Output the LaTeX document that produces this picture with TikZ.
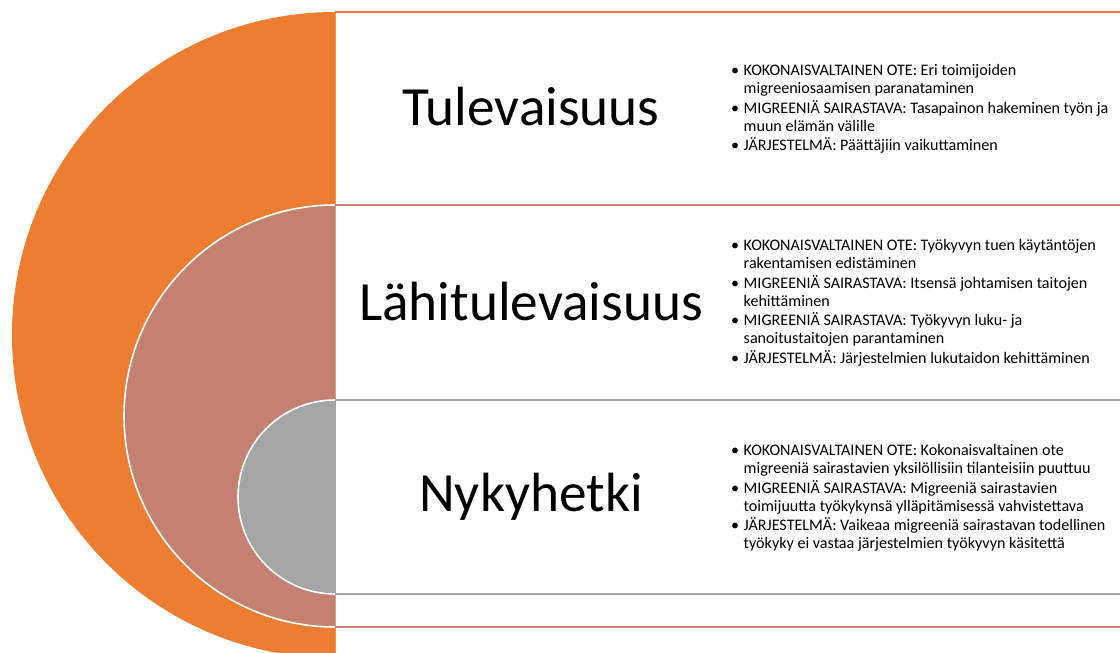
\documentclass[tikz,border=0pt]{standalone}
\usepackage{fontspec}
\setmainfont{Carlito}
\definecolor{orng}{RGB}{237,125,49}
\definecolor{salm}{RGB}{196,128,112}
\definecolor{gry}{RGB}{165,165,165}
\newcommand{\bi}{\makebox[12.5pt][l]{\textbullet}}
\newcommand{\ci}{\hspace*{12.5pt}}
\tikzset{
  title/.style={font=\fontsize{55.3}{60}\selectfont, inner sep=0pt},
  blist/.style={font=\fontsize{16.1}{18}\selectfont, align=left, anchor=west, inner sep=0pt},
  hline/.style={line width=2pt}
}
\begin{document}
\begin{tikzpicture}[x=1pt,y=-1pt]
\useasboundingbox (0,0) rectangle (1120,653);
% half discs
\fill[orng] (335,12) arc[start angle=270, end angle=90, radius=323] -- cycle;
\fill[salm] (335,205) arc[start angle=270, end angle=90, radius=211] -- cycle;
\draw[white, line width=1.6pt] (335,205) arc[start angle=270, end angle=90, radius=211];
\fill[gry] (335,400) arc[start angle=270, end angle=90, radius=97] -- cycle;
\draw[white, line width=1.6pt] (335,400) arc[start angle=270, end angle=90, radius=97];
% vertical edges
\draw[orng!85!white, line width=1.2pt] (335.5,12) -- (335.5,205);
\draw[orng!85!white, line width=1.2pt] (335.5,627) -- (335.5,653);
\draw[salm!80!white, line width=1.2pt] (335.5,205) -- (335.5,400);
\draw[salm!80!white, line width=1.2pt] (335.5,594) -- (335.5,627);
\draw[gry, line width=1.2pt] (335.5,400) -- (335.5,594);
% horizontal lines
\coordinate (a1) at (335,12);   \coordinate (a2) at (1120,12);
\coordinate (b1) at (335,205);  \coordinate (b2) at (1120,205);
\coordinate (c1) at (335,400);  \coordinate (c2) at (1120,400);
\coordinate (d1) at (335,594);  \coordinate (d2) at (1120,594);
\coordinate (e1) at (335,627);  \coordinate (e2) at (1120,627);
\draw[hline, orng, line width=1.6pt] (a1) -- (a2);
\draw[hline, salm] (b1) -- (b2);
\draw[hline, gry] (c1) -- (c2);
\draw[hline, gry] (d1) -- (d2);
\draw[hline, salm] (e1) -- (e2);
% titles
\node[title] (t1) at (531,107) {Tulevaisuus};
\node[title] (t2) at (531,302) {Lähitulevaisuus};
\node[title] (t3) at (531,497) {Nykyhetki};
% lists
\node[blist] (l1) at (731,109) {%
\bi KOKONAISVALTAINEN OTE: Eri toimijoiden\\
\ci migreeniosaamisen paranataminen\\[1.5pt]
\bi MIGREENIÄ SAIRASTAVA: Tasapainon hakeminen työn ja\\
\ci muun elämän välille\\[1.5pt]
\bi JÄRJESTELMÄ: Päättäjiin vaikuttaminen};
\node[blist] (l2) at (731,303) {%
\bi KOKONAISVALTAINEN OTE: Työkyvyn tuen käytäntöjen\\
\ci rakentamisen edistäminen\\[1.5pt]
\bi MIGREENIÄ SAIRASTAVA: Itsensä johtamisen taitojen\\
\ci kehittäminen\\[1.5pt]
\bi MIGREENIÄ SAIRASTAVA: Työkyvyn luku- ja\\
\ci sanoitustaitojen parantaminen\\[1.5pt]
\bi JÄRJESTELMÄ: Järjestelmien lukutaidon kehittäminen};
\node[blist] (l3) at (731,498) {%
\bi KOKONAISVALTAINEN OTE: Kokonaisvaltainen ote\\
\ci migreeniä sairastavien yksilöllisiin tilanteisiin puuttuu\\[1.5pt]
\bi MIGREENIÄ SAIRASTAVA: Migreeniä sairastavien\\
\ci toimijuutta työkykynsä ylläpitämisessä vahvistettava\\[1.5pt]
\bi JÄRJESTELMÄ: Vaikeaa migreeniä sairastavan todellinen\\
\ci työkyky ei vastaa järjestelmien työkyvyn käsitettä};
\end{tikzpicture}
\end{document}
